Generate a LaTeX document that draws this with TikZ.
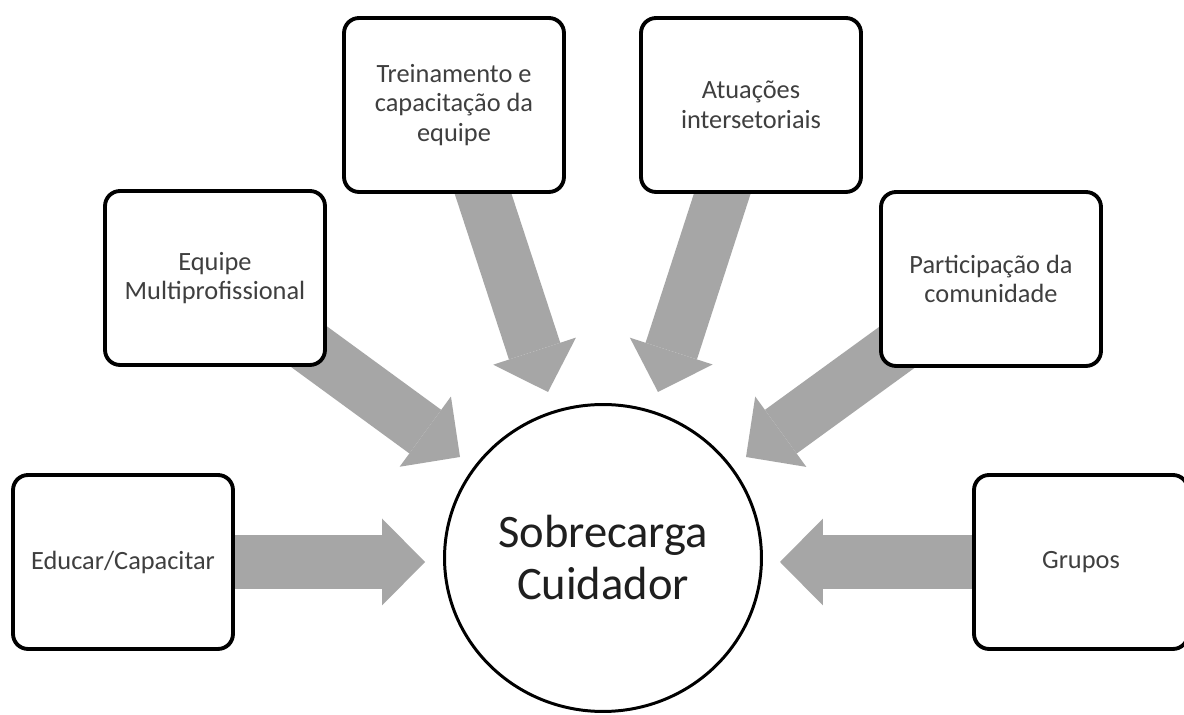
\documentclass[tikz,border=0pt]{standalone}
\usepackage{fontspec}
\setmainfont{Carlito}
\usepackage{tikz}
\usetikzlibrary{arrows.meta,shapes.geometric,backgrounds}
\definecolor{setacinza}{HTML}{A6A6A6}
\definecolor{textocinza}{HTML}{3F3F3F}

\begin{document}
\begin{tikzpicture}[x=0.02cm,y=-0.02cm,
		caixa/.style={draw=black, line width=2.2pt, rounded corners=0.3cm, fill=white, minimum width=4.4cm, minimum height=3.48cm, align=center, text=textocinza, font=\fontsize{15pt}{17pt}\selectfont},
		centro/.style={ellipse, draw=black, line width=1.7pt, fill=white, minimum width=6.34cm, minimum height=6.14cm, align=center, text=black!88, font=\fontsize{26.5pt}{29.6pt}\selectfont},
		seta/.style={draw=setacinza, line width=1.08cm, -{Triangle[width=1.74cm,length=0.86cm,line width=0pt]}}]
	\useasboundingbox (0,0) rectangle (1184,715);
	\node[centro] (sobrecarga) at (603,558) {Sobrecarga\\Cuidador};
	\node[caixa] (educar) at (123,562) {Educar/Capacitar};
	\node[caixa] (equipe) at (215,278) {Equipe\\Multiprofissional};
	\node[caixa] (treino) at (454,105) {Treinamento e\\capacitação da\\equipe};
	\node[caixa] (atua) at (751,105) {Atuações\\intersetoriais};
	\node[caixa] (partic) at (991,279) {Participação da\\comunidade};
	\node[caixa, minimum width=4.28cm] (grupos) at (1081,562) {Grupos};
	\coordinate (pEducar) at (425,562);
	\coordinate (pEquipe) at (460,457);
	\coordinate (pTreino) at (548,392);
	\coordinate (pAtua) at (658,392);
	\coordinate (pPartic) at (746,457);
	\coordinate (pGrupos) at (780,562);
	\begin{pgfonlayer}{background}
		\fill[white] (0,0) rectangle (1184,715);
		\draw[seta] (educar.center) -- (pEducar);
		\draw[seta] (equipe.center) -- (pEquipe);
		\draw[seta] (treino.center) -- (pTreino);
		\draw[seta] (atua.center) -- (pAtua);
		\draw[seta] (partic.center) -- (pPartic);
		\draw[seta] (grupos.center) -- (pGrupos);
	\end{pgfonlayer}
\end{tikzpicture}
\end{document}
